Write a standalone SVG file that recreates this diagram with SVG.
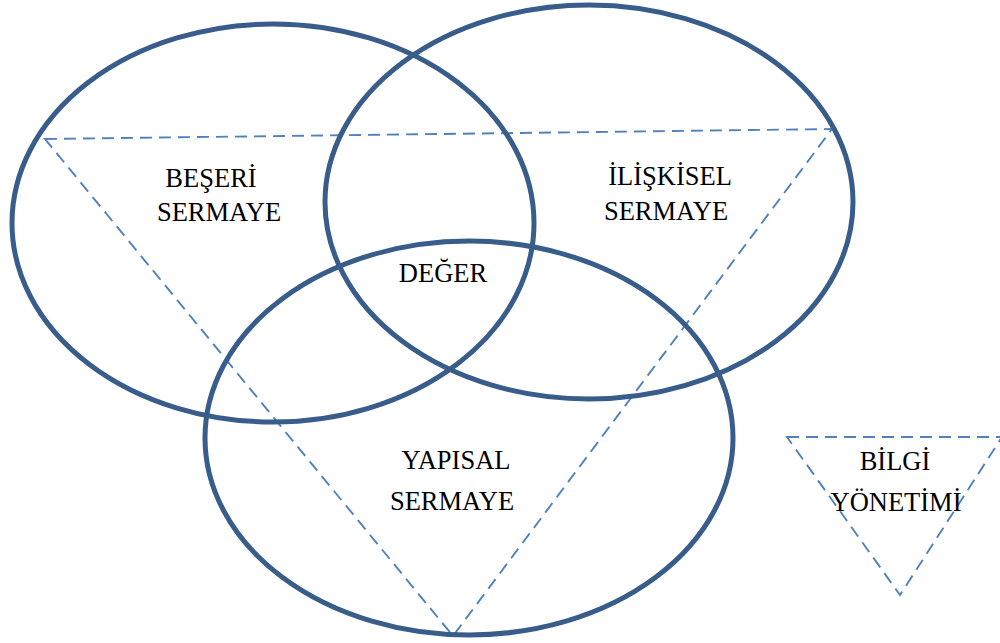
<svg xmlns="http://www.w3.org/2000/svg" width="1000" height="643" viewBox="0 0 1000 643">
  <style>
    .ring { fill: none; stroke: #385d8a; stroke-width: 5; }
    .dash { fill: none; stroke: #4f81bd; stroke-width: 1.9; stroke-dasharray: 12 7; stroke-linejoin: miter; }
    .lbl { font-family: "Liberation Serif", "Times New Roman", serif; font-size: 26.5px; fill: #000; text-anchor: middle; }
  </style>
  <rect width="1000" height="643" fill="#fff"/>

  <!-- dashed triangles -->
  <g id="connectors">
    <polygon class="dash" points="45,139 832,129 453,636"/>
    <polygon class="dash" points="787,437 1002,437 900,595"/>
  </g>

  <!-- three overlapping capital rings -->
  <g id="beseri">
    <ellipse class="ring" cx="273" cy="223" rx="261" ry="199"/>
    <text class="lbl" x="211" y="187">BEŞERİ</text>
    <text class="lbl" x="219" y="221">SERMAYE</text>
  </g>
  <g id="iliskisel">
    <ellipse class="ring" cx="589" cy="202" rx="264" ry="197"/>
    <text class="lbl" x="670" y="185">İLİŞKİSEL</text>
    <text class="lbl" x="666" y="220">SERMAYE</text>
  </g>
  <g id="yapisal">
    <ellipse class="ring" cx="469" cy="438" rx="264" ry="197"/>
    <text class="lbl" x="456" y="469">YAPISAL</text>
    <text class="lbl" x="452" y="510">SERMAYE</text>
  </g>
  <g id="deger">
    <text class="lbl" x="443" y="282">DEĞER</text>
  </g>
  <g id="bilgi-yonetimi">
    <text class="lbl" x="895" y="470">BİLGİ</text>
    <text class="lbl" x="896" y="511">YÖNETİMİ</text>
  </g>
</svg>
